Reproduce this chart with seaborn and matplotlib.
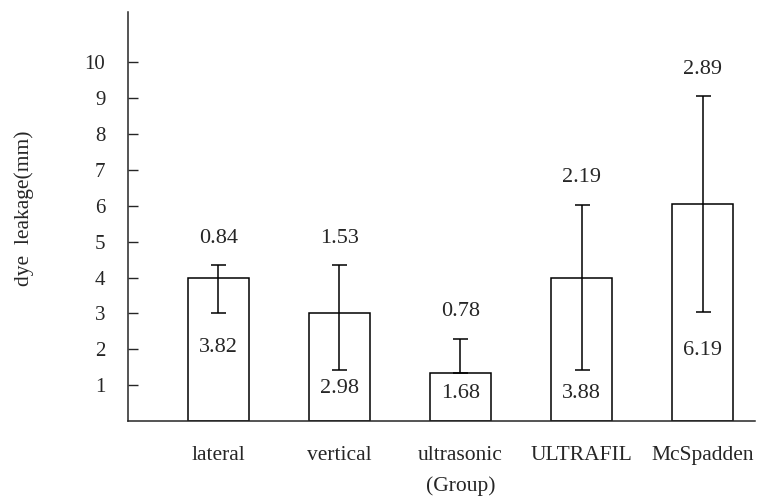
import numpy as np
import pandas as pd
import matplotlib
matplotlib.use("Agg")
import matplotlib.pyplot as plt
import seaborn as sns

# values as drawn in the figure
groups = ['lateral', 'vertical', 'ultrasonic', 'ULTRAFIL', 'McSpadden']
bar_height = [4.0, 3.0, 1.35, 4.0, 6.05]
err_top = [4.35, 4.35, 2.3, 6.03, 9.05]
err_bottom = [3.0, 1.42, 1.35, 1.42, 3.03]
sd_labels = ['0.84', '1.53', '0.78', '2.19', '2.89']
mean_labels = ['3.82', '2.98', '1.68', '3.88', '6.19']

# layout for the in-bar labels
mean_label_y = [2.06, 0.92, 0.77, 0.77, 1.97]

df = pd.DataFrame({'group': groups, 'leak': bar_height})

sns.set_style('ticks')
plt.rcParams['font.family'] = ['Liberation Serif', 'DejaVu Serif']

fig = plt.figure(figsize=(7.78, 4.99), dpi=100)
ax = fig.add_axes([0.164, 0.156, 0.806, 0.82])

sns.barplot(data=df, x='group', y='leak', color='white', edgecolor='black',
            linewidth=1.1, width=0.5, ax=ax)

x = np.arange(len(groups))
lower = np.array(bar_height) - np.array(err_bottom)
upper = np.array(err_top) - np.array(bar_height)
ax.errorbar(x, bar_height, yerr=[lower, upper], fmt='none', ecolor='black',
            elinewidth=1.1, capsize=5.4, capthick=1.1)

for i in range(len(groups)):
    ax.text(x[i], err_top[i] + 0.75, sd_labels[i], ha='center', va='center',
            fontsize=16)
    ax.text(x[i], mean_label_y[i], mean_labels[i], ha='center', va='center',
            fontsize=16)

ax.set_xlim(-0.75, 4.43)
ax.set_ylim(0, 11.4)
ax.set_yticks(range(1, 11))
ax.tick_params(axis='y', direction='in', length=7, width=1, labelsize=15, pad=16)
ax.tick_params(axis='x', length=0, labelsize=15.5, pad=18)
ax.set_xlabel('')
ax.set_ylabel('dye  leakage(mm)', fontsize=15.5)
ax.yaxis.set_label_coords(-0.15, 0.52)
ax.text(2, -1.8, '(Group)', ha='center', va='center', fontsize=15.5)

sns.despine(ax=ax)
for s in ['left', 'bottom']:
    ax.spines[s].set_linewidth(1.1)
ax.spines['bottom'].set_bounds(-0.75, 4.43)

fig.savefig('out.png', dpi=100)
